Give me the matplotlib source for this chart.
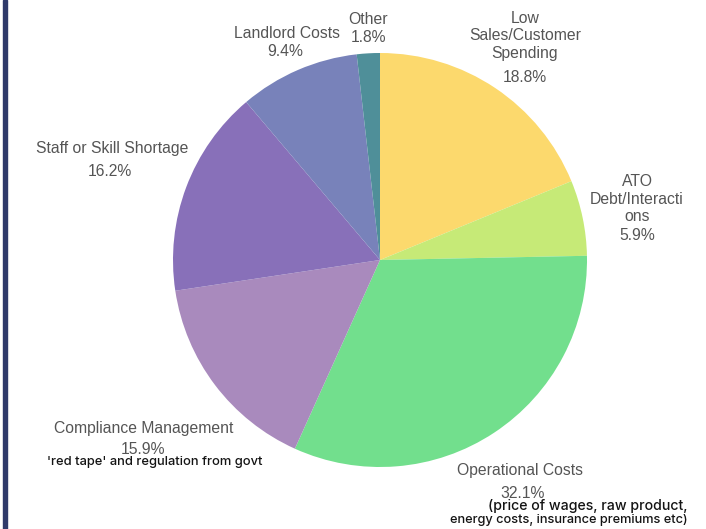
import matplotlib
matplotlib.use("Agg")
import matplotlib.pyplot as plt
from matplotlib.patches import Rectangle

# share of businesses by main cost pressure, clockwise from 12 o'clock
categories = ["Low Sales/Customer Spending", "ATO Debt/Interactions", "Operational Costs",
              "Compliance Management", "Staff or Skill Shortage", "Landlord Costs", "Other"]
shares = [18.8, 5.9, 32.1, 15.9, 16.2, 9.4, 1.8]
colors = ["#fcd96d", "#c6ea77", "#72df8d", "#a98abd", "#8870b9", "#7882ba", "#4f8f99"]

W, H = 706, 529
fig = plt.figure(figsize=(W / 100, H / 100), dpi=100)
ax = fig.add_axes([0, 0, 1, 1])

ax.pie(shares, colors=colors, startangle=90, counterclock=False,
       center=(380, H - 260), radius=207, frame=True,
       wedgeprops=dict(linewidth=0))
ax.set_xlim(0, W)
ax.set_ylim(0, H)
ax.axis("off")

label_style = dict(ha="center", va="center", fontsize=11.3, color="#555555",
                   family="Liberation Sans", linespacing=1.22)
note_style = dict(color="#141414", family="Inter", fontweight="medium")

# (name lines, name centre, pct centre) in pixel coords from the top
labels = [
    ("Low\nSales/Customer\nSpending", (525, 36), (525, 77)),
    ("ATO\nDebt/Interacti\nons", (637, 199), (637, 236)),
    ("Operational Costs", (520, 470), (523, 493)),
    ("Compliance Management", (144, 428), (143, 450)),
    ("Staff or Skill Shortage", (112, 149), (110, 172)),
    ("Landlord Costs", (287, 33), (285, 52)),
    ("Other", (368, 20), (368, 38)),
]
for (name, (nx, ny), (px, py)), val in zip(labels, shares):
    ax.text(nx, H - ny, name, **label_style)
    ax.text(px, H - py, f"{val}%", **label_style)

ax.text(155, H - 462, "'red tape' and regulation from govt", ha="center", va="center",
        fontsize=9.3, **note_style)
ax.text(688, H - 506, "(price of wages, raw product,", ha="right", va="center",
        fontsize=10.2, **note_style)
ax.text(688, H - 520, "energy costs, insurance premiums etc)", ha="right", va="center",
        fontsize=9.2, **note_style)

# frame edge on the left
fig.patches.append(Rectangle((3 / W, 0), 4 / W, 1, transform=fig.transFigure,
                             color="#2f3a6a", zorder=5))

fig.savefig("out.png", dpi=100)
